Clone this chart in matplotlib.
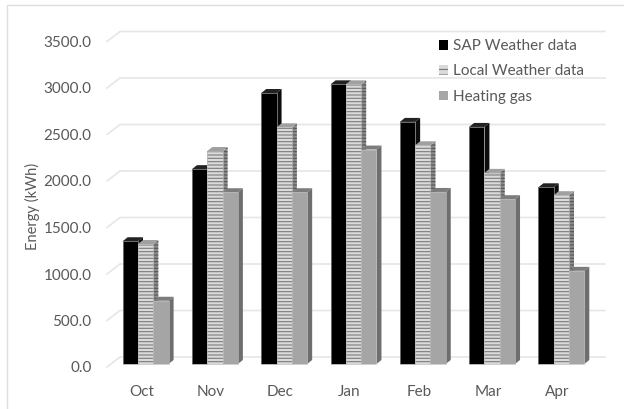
import matplotlib
matplotlib.use("Agg")
import matplotlib.pyplot as plt
from matplotlib.patches import Polygon, Patch
from matplotlib.transforms import Affine2D

months = ["Oct", "Nov", "Dec", "Jan", "Feb", "Mar", "Apr"]
sap = [1320, 2095, 2914, 3007, 2603, 2549, 1900]
local = [1290, 2290, 2545, 3007, 2352, 2055, 1815]
gas = [680, 1847, 1847, 2306, 1850, 1772, 1002]
yticks = [0, 500, 1000, 1500, 2000, 2500, 3000, 3500]
names = ["SAP Weather data", "Local Weather data", "Heating gas"]

W, H = 624, 409
plt.rcParams["font.family"] = ["Lato", "DejaVu Sans"]
plt.rcParams["hatch.linewidth"] = 0.8
fig = plt.figure(figsize=(W / 100, H / 100), dpi=100)
L, R, T, B = 107, 592, 41.5, 367
ax = fig.add_axes([L / W, 1 - B / H, (R - L) / W, (B - T) / H])
ax.set_xlim(-0.5, 6.5)
ax.set_ylim(0, 3500)
ax.patch.set_alpha(0)
for s in ax.spines.values():
    s.set_visible(False)

px_x = 7 / (R - L)
px_y = 3500 / (B - T)
TXT = "#595959"
GRID = "#e6e6e6"

# walls: gridlines with a perspective stub
gx, gy = 13 * px_x, 10 * px_y
for v in yticks:
    ax.plot([-0.5, -0.5 + gx, 6.5 + gx], [v, v + gy, v + gy], color=GRID, lw=1.2,
            clip_on=False, zorder=1)

# bars
bw = 15.3 * px_x
dx, dy = 5 * px_x, 4 * px_y
tr = ax.transData + Affine2D().translate(4, 3)
styles = [
    dict(front="#000000", top="#222222", side="#0c0c0c", line="#9a9a9a"),
    dict(front="#dadada", top="#a0a0a0", side="#8c8c8c", hatch="-----", edge="#7c7c7c", line="#bbbbbb"),
    dict(front="#a5a5a5", top="#7c7c7c", side="#6e6e6e", line="#bdbdbd"),
]
series = [sap, local, gas]
for j, (vals, st) in enumerate(zip(series, styles)):
    z = 3 + j * 0.1
    for i, v in enumerate(vals):
        x0 = i + (j - 1.5) * bw
        x1 = x0 + bw
        ax.add_patch(Polygon([(x1, 0), (x1 + dx, dy), (x1 + dx, v + dy), (x1, v)], closed=True,
                             fc=st["side"], ec="#555555" if "hatch" in st else "none", lw=0,
                             transform=tr, clip_on=False, zorder=z, hatch=st.get("hatch")))
        ax.add_patch(Polygon([(x0, v), (x0 + dx, v + dy), (x1 + dx, v + dy), (x1, v)], closed=True,
                             fc=st["top"], ec="none", transform=tr, clip_on=False, zorder=z))
    # hatch layer, then a thin outline on top
    ax.bar([i + (j - 1.5) * bw for i in range(7)], vals, width=bw, align="edge",
           color=st["front"], hatch=st.get("hatch"), edgecolor=st.get("edge", st["front"]),
           linewidth=0, transform=tr, clip_on=False, zorder=z + 0.01)
    ax.bar([i + (j - 1.5) * bw for i in range(7)], vals, width=bw, align="edge",
           fill=False, edgecolor=st["line"], linewidth=0.5, transform=tr, clip_on=False,
           zorder=z + 0.02)

ax.set_xticks(range(7), months)
ax.set_yticks(yticks, [f"{v:.1f}" for v in yticks])
ax.tick_params(length=0, labelsize=11, labelcolor=TXT)
ax.tick_params(axis="x", pad=13)
ax.tick_params(axis="y", pad=11)
ax.set_ylabel("Energy (kWh)", fontsize=10.5, color=TXT, labelpad=3, y=(B - 206.5) / (B - T))

handles = [Patch(fc="#000000", ec="none"),
           Patch(fc="#dadada", ec="#777777", lw=0, hatch="---"),
           Patch(fc="#a5a5a5", ec="none")]
ax.legend(handles, names, frameon=False, fontsize=11, labelcolor=TXT,
          loc="upper left", bbox_to_anchor=((438.5 - L) / (R - L), 1 - (39 - T) / (B - T)),
          borderaxespad=0, borderpad=0, handlelength=0.62, handleheight=0.62,
          handletextpad=0.3, labelspacing=0.75)

# outer frame: only left and top edges remain visible in the picture
fig.add_artist(plt.Line2D([6.5 / W, 6.5 / W, 1], [0, 1 - 4.5 / H, 1 - 4.5 / H], color="#dedede",
                          lw=1, transform=fig.transFigure))
fig.savefig("out.png", dpi=100)
